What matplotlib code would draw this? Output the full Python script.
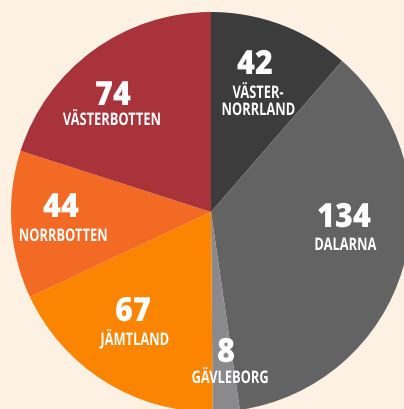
import matplotlib
matplotlib.use("Agg")
import matplotlib.pyplot as plt
from matplotlib.patheffects import AbstractPathEffect
from matplotlib.transforms import Affine2D

regions = ["VÄSTER-\nNORRLAND", "DALARNA", "GÄVLEBORG", "JÄMTLAND", "NORRBOTTEN", "VÄSTERBOTTEN"]
values = [42, 134, 8, 67, 44, 74]
colors = ["#3c3c3c", "#636363", "#8a8a8c", "#fb8500", "#f36a25", "#a8333a"]

# label anchor positions in pixel coords (x centre, baseline y of last line, from top)
num_pos = [(255, 74), (344, 227), (226, 362), (133, 321), (61, 217), (113, 105)]
lab_pos = [(258, 115), (345, 250), (230, 383), (135, 345), (63, 241), (112, 125)]
line_gap = 17


class Squeeze(AbstractPathEffect):
    """Compress glyphs horizontally around each line's centre."""

    def __init__(self, sx):
        super().__init__()
        self.sx = sx

    def draw_path(self, renderer, gc, tpath, affine, rgbFace=None):
        ext = tpath.get_extents()
        c = (ext.x0 + ext.x1) / 2
        t = Affine2D().translate(-c, 0).scale(self.sx, 1).translate(c, 0) + affine
        renderer.draw_path(gc, tpath, t, rgbFace)


W, H = 404, 409
bg = "#fdf1e4"
fig = plt.figure(figsize=(W / 100, H / 100), dpi=100, facecolor=bg)
ax = fig.add_axes([0, 0, 1, 1])
ax.set_facecolor(bg)

cx, cy, r = 211, H - 212, 200
ax.pie(values, colors=colors, startangle=90, counterclock=False,
       center=(cx, cy), radius=r, frame=True,
       wedgeprops=dict(linewidth=0))
ax.set_xlim(0, W)
ax.set_ylim(0, H)
ax.set_aspect("equal")
ax.axis("off")

for v, lab, (nx, ny), (lx, ly) in zip(values, regions, num_pos, lab_pos):
    ax.text(nx, H - ny, str(v), ha="center", va="baseline", color="white",
            fontsize=24, fontweight="heavy", family="Open Sans",
            path_effects=[Squeeze(0.92)])
    lines = lab.split("\n")
    for i, line in enumerate(lines):
        y = ly - (len(lines) - 1 - i) * line_gap
        ax.text(lx, H - y, line, ha="center", va="baseline", color="white",
                fontsize=12.5, fontweight="bold", family="Open Sans",
                path_effects=[Squeeze(0.74)])

fig.savefig("out.png", dpi=100, facecolor=bg)
